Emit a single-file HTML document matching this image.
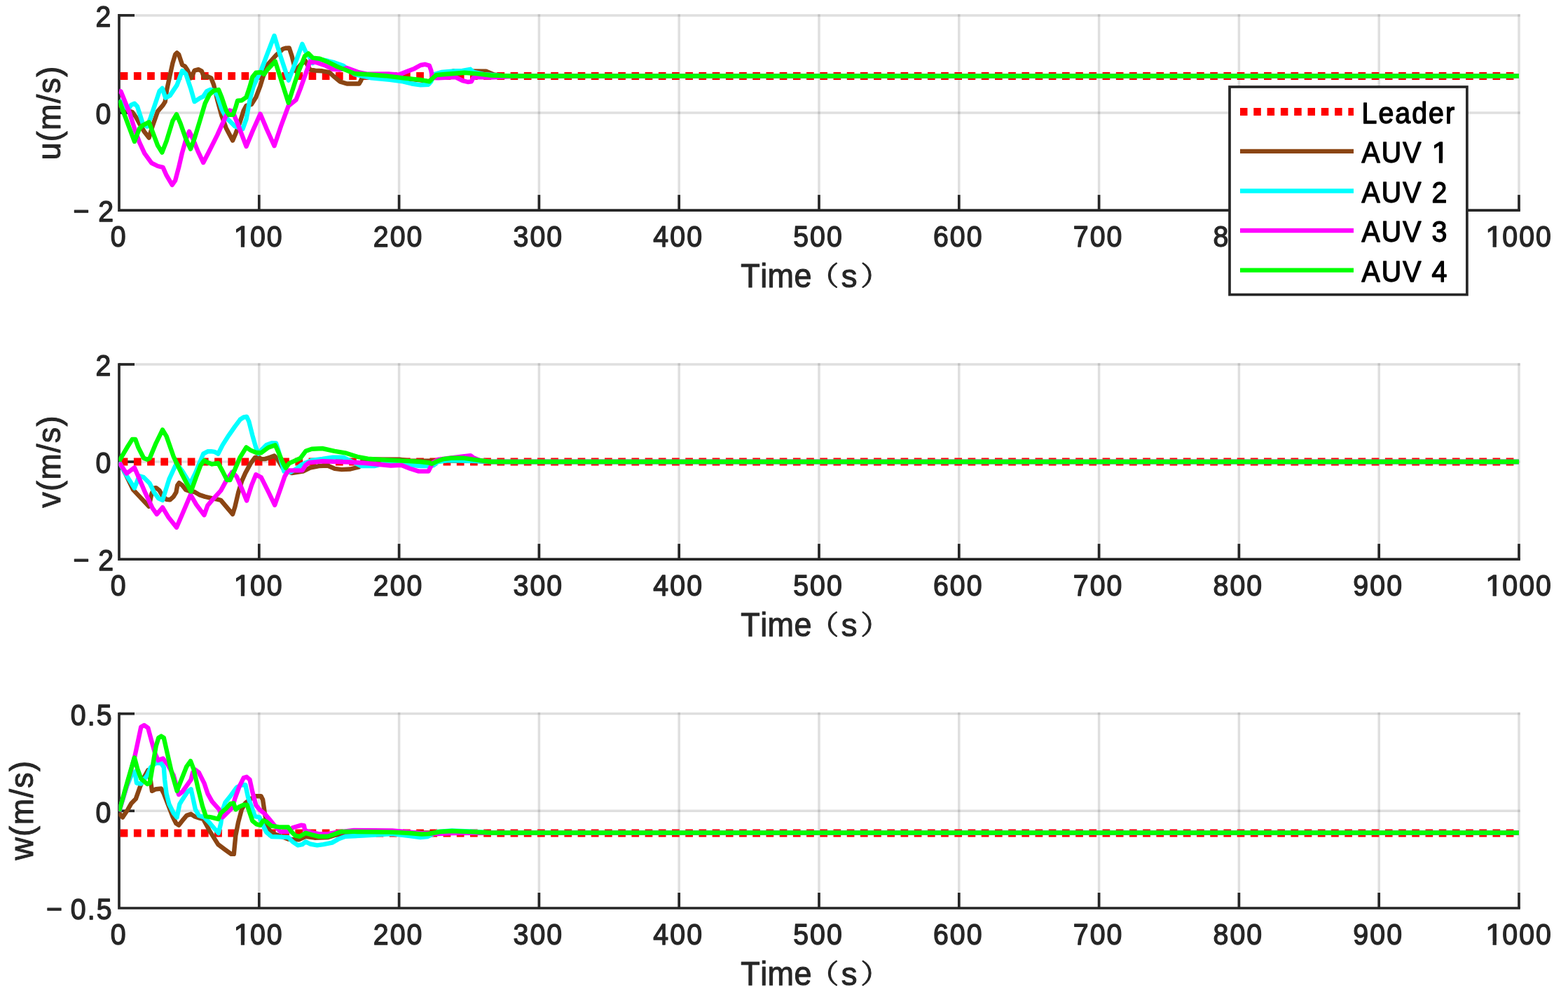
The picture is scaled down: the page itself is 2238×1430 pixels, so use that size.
<!DOCTYPE html>
<html lang="en"><head><meta charset="utf-8"><title>AUV velocity tracking</title>
<style>html,body{margin:0;padding:0;background:#fff}body{width:2238px;height:1430px;overflow:hidden}svg{display:block}text{font-family:'Liberation Sans', 'Noto Sans CJK SC', sans-serif;font-kerning:none;white-space:pre}</style>
</head><body>
<svg width="2238" height="1430" viewBox="0 0 2238 1430">
<defs>
<clipPath id="one" clipPathUnits="userSpaceOnUse"><path clip-rule="evenodd" d="M-10-60H200V30H-10ZM-3 -4.24H10.45V4H-3ZM15.58 -4.24H26.98V4H15.58Z"/></clipPath>
<clipPath id="oneL" clipPathUnits="userSpaceOnUse"><path clip-rule="evenodd" d="M-10-60H200V30H-10ZM96.93 -4.24H110.37V4H96.93ZM115.5 -4.24H126.91V4H115.5Z"/></clipPath>
</defs>
<rect x="0" y="0" width="2238" height="1430" fill="#ffffff"/>
<g id="axes1">
<g stroke="#262626" stroke-opacity="0.15" stroke-width="3.5" fill="none">
<line x1="369.8" y1="20.15" x2="369.8" y2="298.25"/>
<line x1="569.6" y1="20.15" x2="569.6" y2="298.25"/>
<line x1="769.4" y1="20.15" x2="769.4" y2="298.25"/>
<line x1="969.2" y1="20.15" x2="969.2" y2="298.25"/>
<line x1="1169" y1="20.15" x2="1169" y2="298.25"/>
<line x1="1368.8" y1="20.15" x2="1368.8" y2="298.25"/>
<line x1="1568.6" y1="20.15" x2="1568.6" y2="298.25"/>
<line x1="1768.4" y1="20.15" x2="1768.4" y2="298.25"/>
<line x1="1968.2" y1="20.15" x2="1968.2" y2="298.25"/>
<line x1="2168" y1="20.15" x2="2168" y2="298.25"/>
<line x1="171.85" y1="21.9" x2="2169.75" y2="21.9"/>
<line x1="171.85" y1="161" x2="2169.75" y2="161"/>
</g>
<g stroke="#262626" stroke-width="3.7" fill="none" stroke-linecap="butt">
<polyline points="170,20.05 170,300.1 2169.85,300.1" stroke-linejoin="miter"/>
<line x1="369.8" y1="300.1" x2="369.8" y2="278.1"/>
<line x1="569.6" y1="300.1" x2="569.6" y2="278.1"/>
<line x1="769.4" y1="300.1" x2="769.4" y2="278.1"/>
<line x1="969.2" y1="300.1" x2="969.2" y2="278.1"/>
<line x1="1169" y1="300.1" x2="1169" y2="278.1"/>
<line x1="1368.8" y1="300.1" x2="1368.8" y2="278.1"/>
<line x1="1568.6" y1="300.1" x2="1568.6" y2="278.1"/>
<line x1="1768.4" y1="300.1" x2="1768.4" y2="278.1"/>
<line x1="1968.2" y1="300.1" x2="1968.2" y2="278.1"/>
<line x1="2168" y1="300.1" x2="2168" y2="278.1"/>
<line x1="170" y1="21.9" x2="192" y2="21.9"/>
<line x1="170" y1="161" x2="192" y2="161"/>
</g>
<clipPath id="area1" clipPathUnits="userSpaceOnUse"><rect x="169.4" y="13.9" width="1999.2" height="286.2"/></clipPath>
<g fill="none" stroke-linejoin="round" stroke-linecap="butt" clip-path="url(#area1)">
<line x1="170" y1="108.5" x2="2168" y2="108.5" stroke="#ff0000" stroke-width="11.2" stroke-dasharray="10.7 8.504" stroke-dashoffset="17.5"/>
<polyline points="170,150 176,153 183,158 189,160 194,167 200,178 206,188 212.6,196.5 217.6,180.2 225.1,158.9 232.6,150.2 235.7,145.1 238.2,127.6 246.4,90.1 250.1,77.84 252.6,75.4 255.1,77.6 260.1,92.6 263.9,94.5 267.6,100.1 272.6,111.4 277.6,100.7 283.3,99.2 287.7,101.3 291.4,110.34 296.4,109.2 301.4,111.4 305.2,121.4 310.2,142.6 316.4,165.2 322.7,182.7 332.1,200.5 336.5,190.2 342.7,173.9 347.7,157.7 351.5,150.8 359,148.9 365.3,138.9 371.5,122.6 375.3,110.1 382.8,91.3 394,78.8 404.1,69.74 408,68.7 412.8,68.44 416.6,80 419.7,92.6 421.5,101 425,97 430,91.5 436,87 439,93 442.5,99.5 450,100.7 460,101.3 470,103.2 477.6,110.1 485.1,116.4 495.1,119.5 512.6,119.5 515.1,115.1 517.6,108.8 530,108 550,108.8 575,111.8 600,114.4 612,116.4 617.8,111.6 623,107.4 637,105 647.5,101.2 660,101.5 693.8,101.8 705,106.5 720,108.5 2168,108.5" stroke="#8b4513" stroke-width="6.4"/>
<polyline points="170,143 176,150 183,156 187,150 192,147.7 196,152 203.8,176.3 210,180.5 215,167.6 222.6,145 227.6,130 231.6,126 236.3,139.6 242.6,136.4 252.6,121.4 260.1,101 265.1,105.1 272.6,127.6 277.6,145.1 285.2,140.1 290.2,137.6 295.2,130.1 300.2,127.9 305.2,129.14 310.2,136.4 316.4,155.2 322.7,167.7 329,173.9 335.2,180.2 346.5,183.9 351.5,170.2 356.5,142.6 361.5,123.9 366.5,112.6 372.8,100.1 380.3,80.1 391.5,51 400.3,80.1 411.8,114.6 422.8,86.3 431.4,62.8 436.3,73.8 441,80 446.3,90 456,84.5 468,87 477.6,89.4 490,93.8 506,106 530.2,111.4 556.4,113.9 575.2,116.4 587.7,119.5 600.3,121.4 611.5,120.7 615.3,116.4 619,106.3 630,103 650.3,101.3 660,101 671.3,98.8 676,103 690,106 720,108.5 2168,108.5" stroke="#00ffff" stroke-width="6.4"/>
<polyline points="170,130 172.5,130.5 185,161.3 192.5,185.1 198.8,202.6 206.3,218.9 216.3,232.6 225.1,237 232.6,238.9 237.6,250.2 245.7,263.9 250.1,257.7 255.1,238.9 260.1,217.6 265.1,200.1 270.1,187.6 275.1,197.6 282.7,216.4 290.2,232 297.7,217.6 310.2,192.6 321.5,167.6 327.7,157.5 332,159 339,176 351.5,208.9 361,186 371.5,162.6 381,185 391.5,208.2 401,180 411.6,151.3 422.5,142.6 428.8,126.4 436.3,105.1 442.6,87.6 452.6,89.4 465.1,93.8 475.1,98.8 485,99.5 495.1,97 512.6,103.4 525.2,105.8 554,105.4 569,106.8 581.5,101.8 591.5,97.9 600.3,93 606.5,91.8 612.8,93.5 615.3,100.6 616.8,108.8 619,111 625.3,111.4 650.3,110.1 660.3,115.1 667.8,117 672.8,116.4 675.3,111.4 680,110 700,110.5 740,108.5 2168,108.5" stroke="#ff00ff" stroke-width="6.4"/>
<polyline points="170,143.2 191.9,202 198.8,183.8 203.8,178.8 212.6,174.4 217.6,187.6 225.1,207.6 231.3,217.6 237.6,201.4 246.4,172.6 252,163.2 257.6,176.3 265.1,197.6 272,212.6 277.6,197.6 285.2,172.6 292.7,147.5 298.9,135 305.2,129.4 312.1,128.1 316.4,138.8 322.7,157.5 326.5,163.8 332.7,163.8 336.5,152.5 339,143.8 345.2,143.2 351.5,138.8 356.5,123.8 360.3,110.1 365.3,103.8 372.8,103.2 377,106 382,99 392.8,87.6 411.7,146.8 425,105.1 435,80.1 440.1,76.3 446.3,82.6 456.3,83.8 468.8,88.8 481.4,95.1 493.9,100.1 506.4,105.1 525.2,106.3 550.2,108.2 575.2,111.4 600.3,113.9 612.8,116.4 617.8,111.4 622.8,107 637.8,105.7 662.8,103.8 680,105.1 700,107.5 730,108.5 2168,108.5" stroke="#00ff00" stroke-width="6.4"/>
</g>
<text transform="translate(169.8 352.3) scale(1 1.08)" font-size="39.3" letter-spacing="2.05" text-anchor="middle" fill="#262626" stroke="#262626" stroke-width="1.3" stroke-linejoin="round">0</text>
<text transform="translate(333.43 352.3) scale(1 1.08)" font-size="39.3" letter-spacing="2.05" text-anchor="start" fill="#262626" stroke="#262626" stroke-width="1.3" stroke-linejoin="round" clip-path="url(#one)"><tspan textLength="24.48" lengthAdjust="spacingAndGlyphs" letter-spacing="0">1</tspan><tspan dx="-0.96">00</tspan></text>
<text transform="translate(568.6 352.3) scale(1 1.08)" font-size="39.3" letter-spacing="2.05" text-anchor="middle" fill="#262626" stroke="#262626" stroke-width="1.3" stroke-linejoin="round">200</text>
<text transform="translate(768.4 352.3) scale(1 1.08)" font-size="39.3" letter-spacing="2.05" text-anchor="middle" fill="#262626" stroke="#262626" stroke-width="1.3" stroke-linejoin="round">300</text>
<text transform="translate(968.2 352.3) scale(1 1.08)" font-size="39.3" letter-spacing="2.05" text-anchor="middle" fill="#262626" stroke="#262626" stroke-width="1.3" stroke-linejoin="round">400</text>
<text transform="translate(1168 352.3) scale(1 1.08)" font-size="39.3" letter-spacing="2.05" text-anchor="middle" fill="#262626" stroke="#262626" stroke-width="1.3" stroke-linejoin="round">500</text>
<text transform="translate(1367.8 352.3) scale(1 1.08)" font-size="39.3" letter-spacing="2.05" text-anchor="middle" fill="#262626" stroke="#262626" stroke-width="1.3" stroke-linejoin="round">600</text>
<text transform="translate(1567.6 352.3) scale(1 1.08)" font-size="39.3" letter-spacing="2.05" text-anchor="middle" fill="#262626" stroke="#262626" stroke-width="1.3" stroke-linejoin="round">700</text>
<text transform="translate(1767.4 352.3) scale(1 1.08)" font-size="39.3" letter-spacing="2.05" text-anchor="middle" fill="#262626" stroke="#262626" stroke-width="1.3" stroke-linejoin="round">800</text>
<text transform="translate(1967.2 352.3) scale(1 1.08)" font-size="39.3" letter-spacing="2.05" text-anchor="middle" fill="#262626" stroke="#262626" stroke-width="1.3" stroke-linejoin="round">900</text>
<text transform="translate(2120.2 352.3) scale(1 1.08)" font-size="39.3" letter-spacing="2.05" text-anchor="start" fill="#262626" stroke="#262626" stroke-width="1.3" stroke-linejoin="round" clip-path="url(#one)"><tspan textLength="24.48" lengthAdjust="spacingAndGlyphs" letter-spacing="0">1</tspan><tspan dx="-0.44">000</tspan></text>
<text transform="translate(160.5 38.1) scale(1 1.08)" font-size="39.3" letter-spacing="2.05" text-anchor="end" fill="#262626" stroke="#262626" stroke-width="1.3" stroke-linejoin="round">2</text>
<text transform="translate(160.5 177.2) scale(1 1.08)" font-size="39.3" letter-spacing="2.05" text-anchor="end" fill="#262626" stroke="#262626" stroke-width="1.3" stroke-linejoin="round">0</text>
<text transform="translate(164.1 316.3) scale(1 1.08)" font-size="39.3" letter-spacing="2.05" text-anchor="end" fill="#262626" stroke="#262626" stroke-width="1.3" stroke-linejoin="round">−<tspan dx="10.7">2</tspan></text>
<text transform="translate(1057.2 410.1) scale(1 1.07)" font-size="45" letter-spacing="0.45" text-anchor="start" fill="#262626" stroke="#262626" stroke-width="1" stroke-linejoin="round">Time<tspan x="97.6" dy="-2.8" style="font-family:'Noto Serif CJK SC', 'Noto Sans CJK SC', serif" font-size="35.5" stroke-width="1" letter-spacing="0" textLength="42.56" lengthAdjust="spacingAndGlyphs">（</tspan><tspan x="143.6" dy="2.8" font-size="42.5" letter-spacing="0" textLength="22.75" lengthAdjust="spacingAndGlyphs">s</tspan><tspan x="171.1" dy="-2.8" style="font-family:'Noto Serif CJK SC', 'Noto Sans CJK SC', serif" font-size="35.5" stroke-width="1" letter-spacing="0" textLength="42.56" lengthAdjust="spacingAndGlyphs">）</tspan></text>
<text transform="translate(85.9 161) rotate(-90) scale(1 1.04)" font-size="45" letter-spacing="1.28" text-anchor="middle" fill="#262626" stroke="#262626" stroke-width="1" stroke-linejoin="round">u(m/s)</text>
</g>
<g id="axes2">
<g stroke="#262626" stroke-opacity="0.15" stroke-width="3.5" fill="none">
<line x1="369.8" y1="518.25" x2="369.8" y2="796.25"/>
<line x1="569.6" y1="518.25" x2="569.6" y2="796.25"/>
<line x1="769.4" y1="518.25" x2="769.4" y2="796.25"/>
<line x1="969.2" y1="518.25" x2="969.2" y2="796.25"/>
<line x1="1169" y1="518.25" x2="1169" y2="796.25"/>
<line x1="1368.8" y1="518.25" x2="1368.8" y2="796.25"/>
<line x1="1568.6" y1="518.25" x2="1568.6" y2="796.25"/>
<line x1="1768.4" y1="518.25" x2="1768.4" y2="796.25"/>
<line x1="1968.2" y1="518.25" x2="1968.2" y2="796.25"/>
<line x1="2168" y1="518.25" x2="2168" y2="796.25"/>
<line x1="171.85" y1="520" x2="2169.75" y2="520"/>
<line x1="171.85" y1="659.05" x2="2169.75" y2="659.05"/>
</g>
<g stroke="#262626" stroke-width="3.7" fill="none" stroke-linecap="butt">
<polyline points="170,518.15 170,798.1 2169.85,798.1" stroke-linejoin="miter"/>
<line x1="369.8" y1="798.1" x2="369.8" y2="776.1"/>
<line x1="569.6" y1="798.1" x2="569.6" y2="776.1"/>
<line x1="769.4" y1="798.1" x2="769.4" y2="776.1"/>
<line x1="969.2" y1="798.1" x2="969.2" y2="776.1"/>
<line x1="1169" y1="798.1" x2="1169" y2="776.1"/>
<line x1="1368.8" y1="798.1" x2="1368.8" y2="776.1"/>
<line x1="1568.6" y1="798.1" x2="1568.6" y2="776.1"/>
<line x1="1768.4" y1="798.1" x2="1768.4" y2="776.1"/>
<line x1="1968.2" y1="798.1" x2="1968.2" y2="776.1"/>
<line x1="2168" y1="798.1" x2="2168" y2="776.1"/>
<line x1="170" y1="520" x2="192" y2="520"/>
<line x1="170" y1="659.05" x2="192" y2="659.05"/>
</g>
<clipPath id="area2" clipPathUnits="userSpaceOnUse"><rect x="169.4" y="512" width="1999.2" height="286.1"/></clipPath>
<g fill="none" stroke-linejoin="round" stroke-linecap="butt" clip-path="url(#area2)">
<line x1="170" y1="659" x2="2168" y2="659" stroke="#ff0000" stroke-width="11.2" stroke-dasharray="10.7 8.504" stroke-dashoffset="17.5"/>
<polyline points="170,659 180,678 190,698.9 212.6,722.7 216.3,705.1 220.1,696.64 222.6,696.1 227.6,700.1 232,708 237.6,712.7 242.6,713.3 247.6,708.9 251.4,702.7 253.2,692.6 255.7,689.2 260.1,692.6 265.1,698.9 271,701 277.6,702 285.2,706.4 292.7,708.9 301.4,710.8 310.2,712.7 315.2,713.9 321.5,721.4 332.1,733.9 335.2,723.9 340.2,702.7 345.2,686.4 350.2,675.1 357.7,661.4 364,652.84 369,652.3 372.8,655.1 377.8,655.1 385.3,652.84 391.5,650.4 396,655 405,670 416.6,675.1 432.5,672.6 442.6,667.6 455.1,665.1 467.6,664.5 477.6,668.8 487.6,670.1 500.1,669.5 512.6,666.3 517,658 520,655.5 570,655.6 585,657.6 640,657.6 680,658 700,659 2168,659" stroke="#8b4513" stroke-width="6.4"/>
<polyline points="170,659 180,677.6 191.9,696.6 198.8,679.2 205,681.12 213.8,690.1 220,702.7 226.3,711.4 232,713.9 236.3,700.1 241.4,683.9 250.1,665.02 252.5,662.6 260,672 271.4,690.5 279,675 285.5,659 290.2,647.6 296.4,644.32 301.4,644.2 306.4,644.92 311.4,647.6 317.7,635.1 326.5,621.3 335.2,608.8 342.7,598.8 347.7,595.52 352.1,594.7 355.2,601.3 360.3,621.3 365.3,638.8 369,647.6 372.8,642.6 380.3,634.92 387.8,632.3 394,632.42 398,645 405.3,672.6 415,673.8 425,667.6 431.3,662.6 445,657 460,655 475,652.6 490,652.6 503,659 515,665 535,665 546,662 560,661.5 585,663.5 600,665.1 612.8,665.1 619,664 625,659 640,657 680,658 700,659 2168,659" stroke="#00ffff" stroke-width="6.4"/>
<polyline points="170,660.1 180.7,675.7 191.9,667.3 197.5,680.1 207.6,703.9 217.6,725.2 223.8,733.9 232,724.2 240.1,737.7 252,752.7 260.1,733.9 272,706 280.2,720.2 291.4,735.2 296.4,721.4 302.7,713.9 315.2,700.1 322.7,686.4 331.5,673.5 337.7,680.1 345.2,697.6 352.1,714.5 359,692.6 365.3,677.3 372.8,681.4 382.8,701.4 392.2,720.8 400.3,697.6 406.3,680.1 411.3,671.4 431.3,671.4 436.3,663.8 441.3,660.1 460,658.2 500,659.5 525,661.3 550,663.8 557.7,664.5 572.7,663.8 585.2,668.8 597.7,672.6 611.5,672.6 614,667.6 617.8,660.1 625,656 640,654 662.8,651.3 671.6,650.1 676.6,653.8 685,657 700,659 2168,659" stroke="#ff00ff" stroke-width="6.4"/>
<polyline points="170,658 181.3,638.8 188.8,626.9 193.2,626.9 197.5,638.8 205.1,653.8 210.1,655.7 213.8,653.8 222.6,632.6 232,613.4 237.6,622.6 247.6,651.3 260.1,677.6 272.6,701.4 280.2,680.1 286.4,663.9 291.4,657.2 296.4,660.1 302.7,662.45 311.4,661 317.7,672.6 324,685.1 328.3,685.1 335.2,670.1 342.7,652.6 351.5,638.4 357.7,642.6 365.3,645.7 372.8,646.3 382.8,638.8 392.8,635.3 397.8,646.3 404.1,661.4 407.8,668 412.5,661.3 428.8,653.8 436.3,643.8 445,640.7 460,640 477.6,643.8 492.6,646.3 510,651.8 525,654.7 550,656.4 575,657.6 600,659 612.8,660.5 616.5,662 622.8,658.8 632.8,655.1 644,653.8 662.8,653.8 680,656.3 700,659 2168,659" stroke="#00ff00" stroke-width="6.4"/>
</g>
<text transform="translate(169.8 850.3) scale(1 1.08)" font-size="39.3" letter-spacing="2.05" text-anchor="middle" fill="#262626" stroke="#262626" stroke-width="1.3" stroke-linejoin="round">0</text>
<text transform="translate(333.43 850.3) scale(1 1.08)" font-size="39.3" letter-spacing="2.05" text-anchor="start" fill="#262626" stroke="#262626" stroke-width="1.3" stroke-linejoin="round" clip-path="url(#one)"><tspan textLength="24.48" lengthAdjust="spacingAndGlyphs" letter-spacing="0">1</tspan><tspan dx="-0.96">00</tspan></text>
<text transform="translate(568.6 850.3) scale(1 1.08)" font-size="39.3" letter-spacing="2.05" text-anchor="middle" fill="#262626" stroke="#262626" stroke-width="1.3" stroke-linejoin="round">200</text>
<text transform="translate(768.4 850.3) scale(1 1.08)" font-size="39.3" letter-spacing="2.05" text-anchor="middle" fill="#262626" stroke="#262626" stroke-width="1.3" stroke-linejoin="round">300</text>
<text transform="translate(968.2 850.3) scale(1 1.08)" font-size="39.3" letter-spacing="2.05" text-anchor="middle" fill="#262626" stroke="#262626" stroke-width="1.3" stroke-linejoin="round">400</text>
<text transform="translate(1168 850.3) scale(1 1.08)" font-size="39.3" letter-spacing="2.05" text-anchor="middle" fill="#262626" stroke="#262626" stroke-width="1.3" stroke-linejoin="round">500</text>
<text transform="translate(1367.8 850.3) scale(1 1.08)" font-size="39.3" letter-spacing="2.05" text-anchor="middle" fill="#262626" stroke="#262626" stroke-width="1.3" stroke-linejoin="round">600</text>
<text transform="translate(1567.6 850.3) scale(1 1.08)" font-size="39.3" letter-spacing="2.05" text-anchor="middle" fill="#262626" stroke="#262626" stroke-width="1.3" stroke-linejoin="round">700</text>
<text transform="translate(1767.4 850.3) scale(1 1.08)" font-size="39.3" letter-spacing="2.05" text-anchor="middle" fill="#262626" stroke="#262626" stroke-width="1.3" stroke-linejoin="round">800</text>
<text transform="translate(1967.2 850.3) scale(1 1.08)" font-size="39.3" letter-spacing="2.05" text-anchor="middle" fill="#262626" stroke="#262626" stroke-width="1.3" stroke-linejoin="round">900</text>
<text transform="translate(2120.2 850.3) scale(1 1.08)" font-size="39.3" letter-spacing="2.05" text-anchor="start" fill="#262626" stroke="#262626" stroke-width="1.3" stroke-linejoin="round" clip-path="url(#one)"><tspan textLength="24.48" lengthAdjust="spacingAndGlyphs" letter-spacing="0">1</tspan><tspan dx="-0.44">000</tspan></text>
<text transform="translate(160.5 536.2) scale(1 1.08)" font-size="39.3" letter-spacing="2.05" text-anchor="end" fill="#262626" stroke="#262626" stroke-width="1.3" stroke-linejoin="round">2</text>
<text transform="translate(160.5 675.25) scale(1 1.08)" font-size="39.3" letter-spacing="2.05" text-anchor="end" fill="#262626" stroke="#262626" stroke-width="1.3" stroke-linejoin="round">0</text>
<text transform="translate(164.1 814.3) scale(1 1.08)" font-size="39.3" letter-spacing="2.05" text-anchor="end" fill="#262626" stroke="#262626" stroke-width="1.3" stroke-linejoin="round">−<tspan dx="10.7">2</tspan></text>
<text transform="translate(1057.2 908.1) scale(1 1.07)" font-size="45" letter-spacing="0.45" text-anchor="start" fill="#262626" stroke="#262626" stroke-width="1" stroke-linejoin="round">Time<tspan x="97.6" dy="-2.8" style="font-family:'Noto Serif CJK SC', 'Noto Sans CJK SC', serif" font-size="35.5" stroke-width="1" letter-spacing="0" textLength="42.56" lengthAdjust="spacingAndGlyphs">（</tspan><tspan x="143.6" dy="2.8" font-size="42.5" letter-spacing="0" textLength="22.75" lengthAdjust="spacingAndGlyphs">s</tspan><tspan x="171.1" dy="-2.8" style="font-family:'Noto Serif CJK SC', 'Noto Sans CJK SC', serif" font-size="35.5" stroke-width="1" letter-spacing="0" textLength="42.56" lengthAdjust="spacingAndGlyphs">）</tspan></text>
<text transform="translate(85.9 658.5) rotate(-90) scale(1 1.04)" font-size="45" letter-spacing="1.28" text-anchor="middle" fill="#262626" stroke="#262626" stroke-width="1" stroke-linejoin="round">v(m/s)</text>
</g>
<g id="axes3">
<g stroke="#262626" stroke-opacity="0.15" stroke-width="3.5" fill="none">
<line x1="369.8" y1="1016.85" x2="369.8" y2="1294.15"/>
<line x1="569.6" y1="1016.85" x2="569.6" y2="1294.15"/>
<line x1="769.4" y1="1016.85" x2="769.4" y2="1294.15"/>
<line x1="969.2" y1="1016.85" x2="969.2" y2="1294.15"/>
<line x1="1169" y1="1016.85" x2="1169" y2="1294.15"/>
<line x1="1368.8" y1="1016.85" x2="1368.8" y2="1294.15"/>
<line x1="1568.6" y1="1016.85" x2="1568.6" y2="1294.15"/>
<line x1="1768.4" y1="1016.85" x2="1768.4" y2="1294.15"/>
<line x1="1968.2" y1="1016.85" x2="1968.2" y2="1294.15"/>
<line x1="2168" y1="1016.85" x2="2168" y2="1294.15"/>
<line x1="171.85" y1="1018.6" x2="2169.75" y2="1018.6"/>
<line x1="171.85" y1="1157.3" x2="2169.75" y2="1157.3"/>
</g>
<g stroke="#262626" stroke-width="3.7" fill="none" stroke-linecap="butt">
<polyline points="170,1016.75 170,1296 2169.85,1296" stroke-linejoin="miter"/>
<line x1="369.8" y1="1296" x2="369.8" y2="1274"/>
<line x1="569.6" y1="1296" x2="569.6" y2="1274"/>
<line x1="769.4" y1="1296" x2="769.4" y2="1274"/>
<line x1="969.2" y1="1296" x2="969.2" y2="1274"/>
<line x1="1169" y1="1296" x2="1169" y2="1274"/>
<line x1="1368.8" y1="1296" x2="1368.8" y2="1274"/>
<line x1="1568.6" y1="1296" x2="1568.6" y2="1274"/>
<line x1="1768.4" y1="1296" x2="1768.4" y2="1274"/>
<line x1="1968.2" y1="1296" x2="1968.2" y2="1274"/>
<line x1="2168" y1="1296" x2="2168" y2="1274"/>
<line x1="170" y1="1018.6" x2="192" y2="1018.6"/>
<line x1="170" y1="1157.3" x2="192" y2="1157.3"/>
</g>
<clipPath id="area3" clipPathUnits="userSpaceOnUse"><rect x="169.4" y="1010.6" width="1999.2" height="285.4"/></clipPath>
<g fill="none" stroke-linejoin="round" stroke-linecap="butt" clip-path="url(#area3)">
<line x1="170" y1="1189" x2="2168" y2="1189" stroke="#ff0000" stroke-width="11.2" stroke-dasharray="10.7 8.504" stroke-dashoffset="17.5"/>
<polyline points="170,1160.2 175,1166.4 182.5,1155.2 187.5,1146.4 193.8,1140.1 200,1122.6 205.1,1110.1 211.3,1099.2 215.1,1115.1 217,1128.9 222.6,1126.22 230.1,1125.5 233.8,1132.6 240.1,1148.9 246.4,1165.2 251.4,1175.2 255.1,1177.7 260.1,1171.4 266.4,1163.9 272.6,1161.8 277.6,1165.2 285.2,1167.7 290,1168.8 298.8,1185.1 311.3,1205.1 321.3,1212.6 330,1218.9 333.8,1218.9 336.3,1192.6 340,1173.8 345,1155 350,1146.3 358,1140 365,1136.3 372.6,1136.3 375.1,1141.3 377.6,1158.8 381.4,1180.1 387.6,1188.8 405.1,1195.1 411.4,1197.6 426.4,1198.2 436.4,1193.8 449,1195.7 467.7,1195.1 480.3,1191.3 492.8,1189.4 520,1188.5 2168,1188.5" stroke="#8b4513" stroke-width="6.4"/>
<polyline points="170,1158 181,1122 188,1105 192.5,1101.4 195,1117.6 201.3,1118.5 210.1,1106.4 215.1,1095.1 222.6,1088.7 230.1,1089.28 233.8,1095.1 235.1,1112.6 237.6,1132.6 241.4,1147.7 247.6,1160.2 252.6,1166.4 256.4,1147.7 260.1,1141.4 267.6,1130.1 272.6,1126.3 275.1,1137.6 278.9,1155.2 283.9,1163.9 291.4,1166.4 297.7,1172.7 305.2,1181.5 311.8,1189 315.2,1175.2 317.7,1156.4 321.5,1145.2 327.7,1137.6 337.7,1123.9 345,1120.18 350.2,1120 354,1137.6 359,1151.4 364,1165.2 370.3,1166.4 375.3,1177.7 380.3,1187.7 387.8,1194 397.8,1194.38 411.4,1195 417.7,1201.3 425.2,1206.3 431.4,1205.1 436.4,1201.3 442.7,1204.5 452.7,1206.3 461.5,1205.1 474,1202.6 482.8,1197.6 492.8,1193.8 517.8,1192.6 560,1190.1 585,1193 600,1195 610,1194 625,1187 645,1185.5 670,1186.5 700,1188.5 2168,1188.5" stroke="#00ffff" stroke-width="6.4"/>
<polyline points="170,1158 181,1121 192.5,1078.8 201.3,1037.5 205.7,1034.9 211.3,1038.8 216.3,1057.5 221.3,1075.1 225.7,1085.1 232.6,1082.5 240,1092 247.6,1106.4 255.1,1133.9 260.1,1130.1 266.4,1121.4 272.6,1112.6 275.1,1102.6 278.9,1098.7 283.9,1102.6 291.4,1117.6 296.4,1132.6 302.7,1143.9 312.7,1155.2 317.7,1166.4 325.2,1158.9 331.5,1152.7 335.2,1140.1 341.5,1122.6 347.7,1110.1 352.1,1108.8 356.5,1112.6 360.3,1130.1 365.3,1148.9 370.3,1155.2 377.8,1161.4 385.3,1170.2 392.6,1179 400.2,1186.9 411.4,1186.9 417.7,1181.3 430.2,1177.6 433.9,1178.2 435.2,1185.1 442.7,1187.6 455.2,1190.1 467.7,1190.1 480,1188 505,1185 560,1185.5 600,1189 625,1190 645,1189 700,1188.5 2168,1188.5" stroke="#ff00ff" stroke-width="6.4"/>
<polyline points="170,1157.7 181.3,1117.6 191.9,1081.2 196.3,1097.6 201.3,1111.4 210.1,1118.9 213.8,1117.6 217.6,1095.1 222.6,1065.1 226.3,1052.98 230.1,1050.6 233.8,1052.98 238.8,1075.1 245.1,1102.6 252.6,1128.9 258.9,1112.6 266.4,1093.8 272,1086.2 276.4,1097.6 282.7,1125.1 288.9,1150.2 293.9,1165.2 301.4,1166.4 311.4,1168.9 315.2,1160.2 322.7,1153.9 329,1146.88 333.3,1146.3 336.5,1155.2 341.5,1151.4 347.7,1148.68 352.7,1148.8 356.5,1160.2 360.3,1171.4 366.5,1176.4 371.5,1177.7 375.3,1171.3 380.3,1172.7 387.8,1178.9 397.8,1180.2 411.4,1180.5 416.4,1187.6 421.4,1192.6 427.7,1193.8 436.4,1188.8 445.2,1191.3 455.2,1193.8 467.7,1193.8 475.2,1191.3 486.5,1186.9 505.3,1186.9 560,1187.6 585,1189 602,1190.5 612,1190 628,1187 645,1186 670,1187 700,1188.5 2168,1188.5" stroke="#00ff00" stroke-width="6.4"/>
</g>
<text transform="translate(169.8 1348.2) scale(1 1.08)" font-size="39.3" letter-spacing="2.05" text-anchor="middle" fill="#262626" stroke="#262626" stroke-width="1.3" stroke-linejoin="round">0</text>
<text transform="translate(333.43 1348.2) scale(1 1.08)" font-size="39.3" letter-spacing="2.05" text-anchor="start" fill="#262626" stroke="#262626" stroke-width="1.3" stroke-linejoin="round" clip-path="url(#one)"><tspan textLength="24.48" lengthAdjust="spacingAndGlyphs" letter-spacing="0">1</tspan><tspan dx="-0.96">00</tspan></text>
<text transform="translate(568.6 1348.2) scale(1 1.08)" font-size="39.3" letter-spacing="2.05" text-anchor="middle" fill="#262626" stroke="#262626" stroke-width="1.3" stroke-linejoin="round">200</text>
<text transform="translate(768.4 1348.2) scale(1 1.08)" font-size="39.3" letter-spacing="2.05" text-anchor="middle" fill="#262626" stroke="#262626" stroke-width="1.3" stroke-linejoin="round">300</text>
<text transform="translate(968.2 1348.2) scale(1 1.08)" font-size="39.3" letter-spacing="2.05" text-anchor="middle" fill="#262626" stroke="#262626" stroke-width="1.3" stroke-linejoin="round">400</text>
<text transform="translate(1168 1348.2) scale(1 1.08)" font-size="39.3" letter-spacing="2.05" text-anchor="middle" fill="#262626" stroke="#262626" stroke-width="1.3" stroke-linejoin="round">500</text>
<text transform="translate(1367.8 1348.2) scale(1 1.08)" font-size="39.3" letter-spacing="2.05" text-anchor="middle" fill="#262626" stroke="#262626" stroke-width="1.3" stroke-linejoin="round">600</text>
<text transform="translate(1567.6 1348.2) scale(1 1.08)" font-size="39.3" letter-spacing="2.05" text-anchor="middle" fill="#262626" stroke="#262626" stroke-width="1.3" stroke-linejoin="round">700</text>
<text transform="translate(1767.4 1348.2) scale(1 1.08)" font-size="39.3" letter-spacing="2.05" text-anchor="middle" fill="#262626" stroke="#262626" stroke-width="1.3" stroke-linejoin="round">800</text>
<text transform="translate(1967.2 1348.2) scale(1 1.08)" font-size="39.3" letter-spacing="2.05" text-anchor="middle" fill="#262626" stroke="#262626" stroke-width="1.3" stroke-linejoin="round">900</text>
<text transform="translate(2120.2 1348.2) scale(1 1.08)" font-size="39.3" letter-spacing="2.05" text-anchor="start" fill="#262626" stroke="#262626" stroke-width="1.3" stroke-linejoin="round" clip-path="url(#one)"><tspan textLength="24.48" lengthAdjust="spacingAndGlyphs" letter-spacing="0">1</tspan><tspan dx="-0.44">000</tspan></text>
<text transform="translate(161.6 1034.8) scale(1 1.08)" font-size="39.3" letter-spacing="2.05" text-anchor="end" fill="#262626" stroke="#262626" stroke-width="1.3" stroke-linejoin="round">0.5</text>
<text transform="translate(160.5 1173.5) scale(1 1.08)" font-size="39.3" letter-spacing="2.05" text-anchor="end" fill="#262626" stroke="#262626" stroke-width="1.3" stroke-linejoin="round">0</text>
<text transform="translate(161.6 1312.2) scale(1 1.08)" font-size="39.3" letter-spacing="2.05" text-anchor="end" fill="#262626" stroke="#262626" stroke-width="1.3" stroke-linejoin="round">−<tspan dx="9.9">0.5</tspan></text>
<text transform="translate(1057.2 1406) scale(1 1.07)" font-size="45" letter-spacing="0.45" text-anchor="start" fill="#262626" stroke="#262626" stroke-width="1" stroke-linejoin="round">Time<tspan x="97.6" dy="-2.8" style="font-family:'Noto Serif CJK SC', 'Noto Sans CJK SC', serif" font-size="35.5" stroke-width="1" letter-spacing="0" textLength="42.56" lengthAdjust="spacingAndGlyphs">（</tspan><tspan x="143.6" dy="2.8" font-size="42.5" letter-spacing="0" textLength="22.75" lengthAdjust="spacingAndGlyphs">s</tspan><tspan x="171.1" dy="-2.8" style="font-family:'Noto Serif CJK SC', 'Noto Sans CJK SC', serif" font-size="35.5" stroke-width="1" letter-spacing="0" textLength="42.56" lengthAdjust="spacingAndGlyphs">）</tspan></text>
<text transform="translate(46.9 1156.1) rotate(-90) scale(1 1.04)" font-size="45" letter-spacing="1.28" text-anchor="middle" fill="#262626" stroke="#262626" stroke-width="1" stroke-linejoin="round">w(m/s)</text>
</g>
<g id="legend">
<rect x="1755" y="124.0" width="338.9" height="296.5" fill="#ffffff" stroke="#262626" stroke-width="3.7"/>
<line x1="1770" y1="159.5" x2="1932" y2="159.5" stroke="#ff0000" stroke-width="11" stroke-dasharray="10.5 8.8"/>
<text transform="translate(1943.5 175.5) scale(1 1.08)" font-size="39.3" letter-spacing="2.05" text-anchor="start" fill="#000000" stroke="#000000" stroke-width="1.3" stroke-linejoin="round">Leader</text>
<line x1="1770" y1="215.9" x2="1932" y2="215.9" stroke="#8b4513" stroke-width="6.4"/>
<text transform="translate(1943.5 232) scale(1 1.08)" font-size="39.3" letter-spacing="2.05" text-anchor="start" fill="#000000" stroke="#000000" stroke-width="1.3" stroke-linejoin="round" clip-path="url(#oneL)">AUV <tspan textLength="24.48" lengthAdjust="spacingAndGlyphs" letter-spacing="0">1</tspan></text>
<line x1="1770" y1="272.5" x2="1932" y2="272.5" stroke="#00ffff" stroke-width="6.4"/>
<text transform="translate(1943.5 288.6) scale(1 1.08)" font-size="39.3" letter-spacing="2.05" text-anchor="start" fill="#000000" stroke="#000000" stroke-width="1.3" stroke-linejoin="round">AUV 2</text>
<line x1="1770" y1="329" x2="1932" y2="329" stroke="#ff00ff" stroke-width="6.4"/>
<text transform="translate(1943.5 345.1) scale(1 1.08)" font-size="39.3" letter-spacing="2.05" text-anchor="start" fill="#000000" stroke="#000000" stroke-width="1.3" stroke-linejoin="round">AUV 3</text>
<line x1="1770" y1="385.6" x2="1932" y2="385.6" stroke="#00ff00" stroke-width="6.4"/>
<text transform="translate(1943.5 401.7) scale(1 1.08)" font-size="39.3" letter-spacing="2.05" text-anchor="start" fill="#000000" stroke="#000000" stroke-width="1.3" stroke-linejoin="round">AUV 4</text>
</g>
</svg>
</body></html>
